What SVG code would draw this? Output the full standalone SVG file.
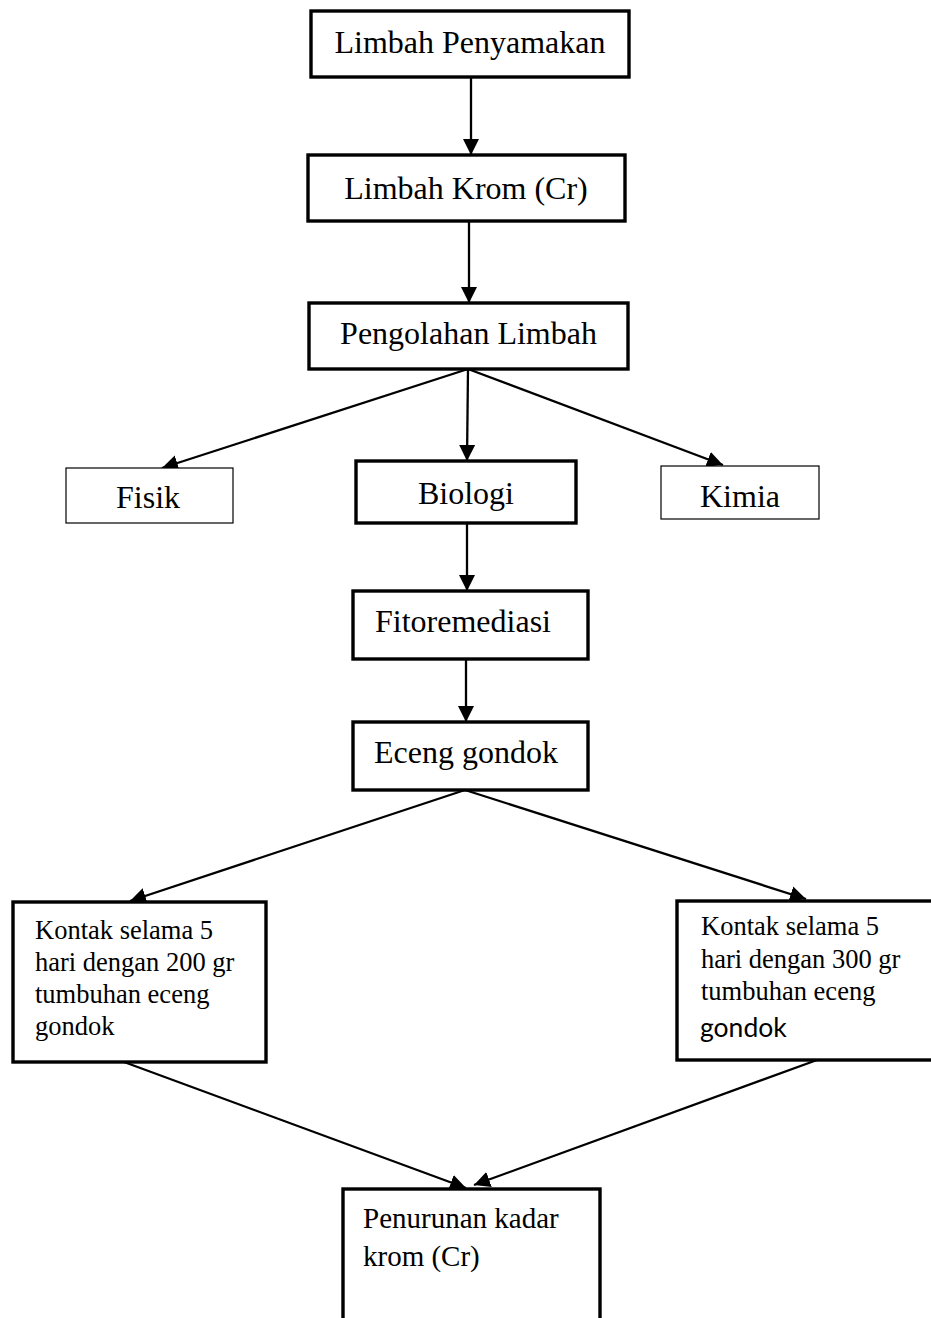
<svg xmlns="http://www.w3.org/2000/svg" width="931" height="1318" viewBox="0 0 931 1318">
<style>
  .box{fill:#fff;stroke:#000;stroke-width:3.4}
  .thin{fill:#fff;stroke:#000;stroke-width:1.2}
  .t{font-family:"Liberation Serif","Times New Roman",serif;font-size:32px;fill:#000}
  .s{font-family:"Liberation Serif","Times New Roman",serif;font-size:26.5px;fill:#000}
  .c{font-family:Lato,"Open Sans",sans-serif;font-size:26.5px;fill:#000}
  .m{font-family:"Liberation Serif","Times New Roman",serif;font-size:29px;fill:#000}
  .ln{stroke:#000;stroke-width:2.3;fill:none;marker-end:url(#ah)}
</style>
<defs>
  <marker id="ah" markerUnits="userSpaceOnUse" markerWidth="18" markerHeight="18" viewBox="0 0 18 18" refX="16" refY="9" orient="auto">
    <path d="M0,1 L16,9 L0,17 Z" fill="#000"/>
  </marker>
</defs>
<rect width="931" height="1318" fill="#fff"/>
<g id="connectors">
  <line class="ln" x1="471" y1="77" x2="471" y2="155"/>
  <line class="ln" x1="469" y1="221" x2="469" y2="303"/>
  <line class="ln" x1="468" y1="369" x2="162" y2="468"/>
  <line class="ln" x1="468" y1="369" x2="467" y2="461"/>
  <line class="ln" x1="468" y1="369" x2="723" y2="465"/>
  <line class="ln" x1="467" y1="523" x2="467" y2="591"/>
  <line class="ln" x1="466" y1="659" x2="466" y2="722"/>
  <line class="ln" x1="465" y1="790" x2="130" y2="901"/>
  <line class="ln" x1="465" y1="790" x2="806" y2="899"/>
  <line class="ln" x1="124" y1="1062" x2="466" y2="1188"/>
  <line class="ln" x1="817" y1="1060" x2="474" y2="1185"/>
</g>
<g id="n1">
  <rect class="box" x="311" y="11" width="318" height="66"/>
  <text class="t" x="470" y="53" text-anchor="middle">Limbah Penyamakan</text>
</g>
<g id="n2">
  <rect class="box" x="308" y="155" width="317" height="66"/>
  <text class="t" x="466" y="199" text-anchor="middle">Limbah Krom (Cr)</text>
</g>
<g id="n3">
  <rect class="box" x="309" y="303" width="319" height="66"/>
  <text class="t" x="468.5" y="344" text-anchor="middle">Pengolahan Limbah</text>
</g>
<g id="n4">
  <rect class="thin" x="66" y="468" width="167" height="55"/>
  <text class="t" x="148" y="508" text-anchor="middle">Fisik</text>
</g>
<g id="n5">
  <rect class="box" x="356" y="461" width="220" height="62"/>
  <text class="t" x="466" y="504" text-anchor="middle">Biologi</text>
</g>
<g id="n6">
  <rect class="thin" x="661" y="466" width="158" height="53"/>
  <text class="t" x="740" y="507" text-anchor="middle">Kimia</text>
</g>
<g id="n7">
  <rect class="box" x="353" y="591" width="235" height="68"/>
  <text class="t" x="375" y="632">Fitoremediasi</text>
</g>
<g id="n8">
  <rect class="box" x="353" y="722" width="235" height="68"/>
  <text class="t" x="374" y="763">Eceng gondok</text>
</g>
<g id="n9">
  <rect class="box" x="13" y="902" width="253" height="160"/>
  <text class="s" x="35" y="939">Kontak selama 5</text>
  <text class="s" x="35" y="971">hari dengan 200 gr</text>
  <text class="s" x="35" y="1003">tumbuhan eceng</text>
  <text class="s" x="35" y="1035">gondok</text>
</g>
<g id="n10">
  <rect class="box" x="677" y="901" width="270" height="159"/>
  <text class="s" x="701" y="935">Kontak selama 5</text>
  <text class="s" x="701" y="968">hari dengan 300 gr</text>
  <text class="s" x="701" y="1000">tumbuhan eceng</text>
  <text class="c" x="700" y="1037">gondok</text>
</g>
<g id="n11">
  <rect class="box" x="343" y="1189" width="257" height="150"/>
  <text class="m" x="363" y="1228">Penurunan kadar</text>
  <text class="m" x="363" y="1266">krom (Cr)</text>
</g>
</svg>
